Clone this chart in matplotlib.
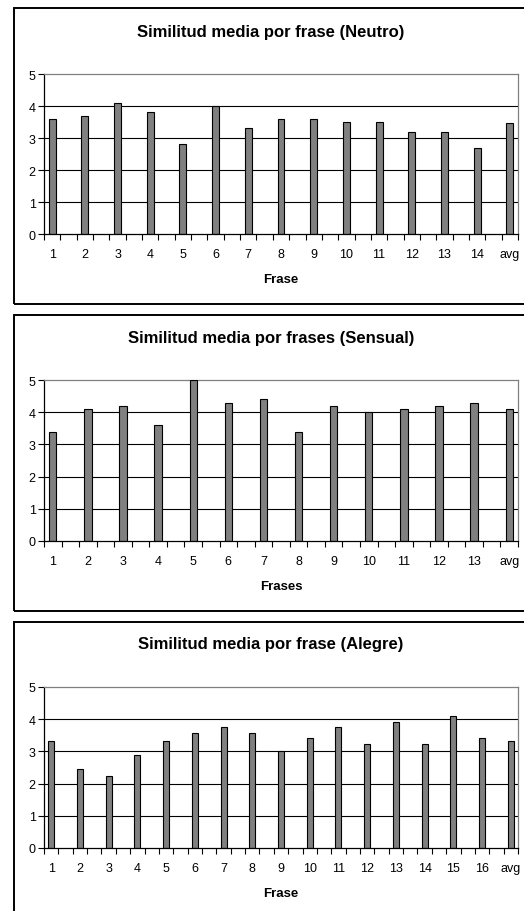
import numpy as np
import matplotlib
matplotlib.use("Agg")
import matplotlib.pyplot as plt
from matplotlib.patches import Rectangle

plt.rcParams['font.family'] = ['Liberation Sans', 'DejaVu Sans']

# Data
neutro_labels = [str(i) for i in range(1, 15)] + ["avg"]
neutro_values = [3.6, 3.7, 4.1, 3.8, 2.8, 4.0, 3.3, 3.6, 3.6, 3.5, 3.5, 3.2, 3.2, 2.7, 3.47]

sensual_labels = [str(i) for i in range(1, 14)] + ["avg"]
sensual_values = [3.4, 4.1, 4.2, 3.6, 5.0, 4.3, 4.4, 3.4, 4.2, 4.0, 4.1, 4.2, 4.3, 4.1]

alegre_labels = [str(i) for i in range(1, 17)] + ["avg"]
alegre_values = [3.33, 2.44, 2.23, 2.9, 3.33, 3.57, 3.77, 3.57, 3.0, 3.43,
                 3.77, 3.23, 3.9, 3.23, 4.1, 3.43, 3.33]

panels = [
    ("Similitud media por frase (Neutro)", "Frase", neutro_labels, neutro_values),
    ("Similitud media por frases (Sensual)", "Frases", sensual_labels, sensual_values),
    ("Similitud media por frase (Alegre)", "Frase", alegre_labels, alegre_values),
]

W, H = 524, 912
fig = plt.figure(figsize=(W / 100, H / 100), dpi=100)

# pixel layout of each panel: (frame top, frame bottom, plot top, plot bottom, title y, xlabel y)
layout = [
    (9, 305, 75, 235, 32, 280),
    (316, 612, 381, 542, 338, 587),
    (623, 930, 688, 849, 645, 894),
]
plot_left, plot_right = 44, 518


def fy(py):
    return 1 - py / H


for (title, xlabel, labels, values), (ft, fb, pt, pb, ty, ly) in zip(panels, layout):
    # outer frame around the chart
    fig.patches.append(Rectangle((13.5 / W, fy(fb)), (W + 10) / W, (fb - ft) / H,
                                 transform=fig.transFigure, fill=False,
                                 edgecolor="black", linewidth=1.4, zorder=0))

    ax = fig.add_axes([plot_left / W, fy(pb), (plot_right - plot_left) / W, (pb - pt) / H])
    n = len(values)
    # every bar sits in its own slot followed by an empty slot
    x = np.arange(n) * 2
    ax.bar(x, values, width=0.42, color="#808080", edgecolor="black", linewidth=0.8, zorder=3)

    ax.set_xlim(-0.5, 2 * n - 1.5)
    ax.set_ylim(0, 5)
    ax.set_yticks(range(0, 6))
    ax.set_xticks(x)
    ax.set_xticklabels(labels)
    ax.set_xticks(np.arange(-0.5, 2 * n - 1, 1.0), minor=True)
    ax.tick_params(axis="x", which="major", length=0, pad=10, labelsize=9)
    ax.tick_params(axis="x", which="minor", length=4.5, width=0.8, direction="out")
    ax.tick_params(axis="y", length=4, width=0.8, direction="out", labelsize=9, pad=2)

    for yv in range(1, 5):
        ax.axhline(yv, color="black", linewidth=0.8, zorder=1)

    ax.spines["left"].set_color("black")
    ax.spines["bottom"].set_color("black")
    ax.spines["top"].set_color("#808080")
    ax.spines["right"].set_color("#808080")
    for s in ax.spines.values():
        s.set_linewidth(0.9)
    ax.spines["bottom"].set_zorder(4)

    fig.text(271 / W, fy(ty), title, ha="center", va="center",
             fontsize=12, fontweight="bold")
    fig.text((plot_left + plot_right) / 2 / W, fy(ly), xlabel, ha="center", va="center",
             fontsize=9.5, fontweight="bold")

fig.savefig("out.png", dpi=100)
